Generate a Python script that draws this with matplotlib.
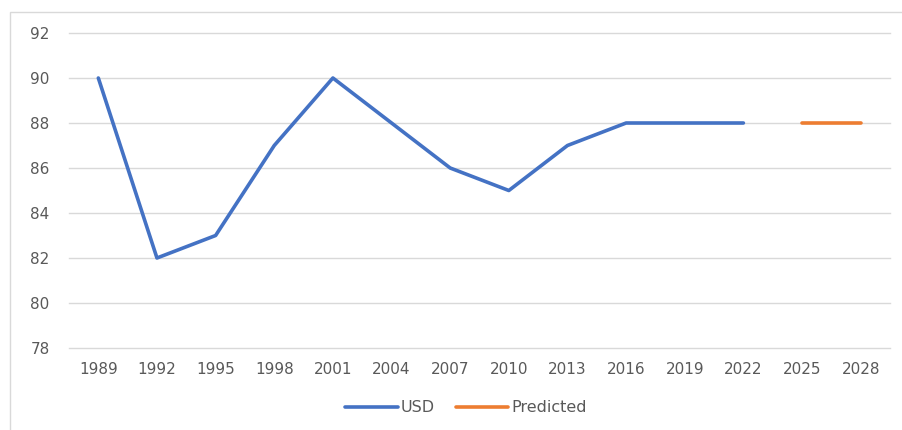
import matplotlib
matplotlib.use("Agg")
import matplotlib.pyplot as plt
import numpy as np
from matplotlib.patches import Rectangle

years = ["1989", "1992", "1995", "1998", "2001", "2004", "2007", "2010",
         "2013", "2016", "2019", "2022", "2025", "2028"]
usd = [90, 82, 83, 87, 90, 88, 86, 85, 87, 88, 88, 88, np.nan, np.nan]
predicted = [np.nan] * 12 + [88, 88]
y_ticks = [78, 80, 82, 84, 86, 88, 90, 92]

fig = plt.figure(figsize=(9.02, 4.30), dpi=100)
ax = fig.add_axes([69 / 902, 1 - 348 / 430, (890 - 69) / 902, (348 - 33) / 430])

x = np.arange(len(years))
ax.plot(x, usd, color="#4472C4", lw=2.6, solid_capstyle="round", label="USD")
ax.plot(x, predicted, color="#ED7D31", lw=2.6, solid_capstyle="round", label="Predicted")

ax.set_xlim(-0.5, len(years) - 0.5)
ax.set_ylim(78, 92)
ax.set_yticks(y_ticks)
ax.set_xticks(x)
ax.set_xticklabels(years)
ax.grid(axis="y", color="#D9D9D9", lw=1)
for gl in ax.yaxis.get_gridlines():
    gl.set_clip_on(False)
ax.set_axisbelow(True)
for s in ax.spines.values():
    s.set_visible(False)
ax.tick_params(axis="both", length=0, labelsize=11, labelcolor="#595959")
ax.tick_params(axis="x", pad=10)
ax.tick_params(axis="y", pad=14)

leg = fig.legend(loc="center", bbox_to_anchor=(466 / 902, 1 - 408 / 430), ncol=2,
                 frameon=False, fontsize=11.5, handlelength=3.3, handletextpad=0.2,
                 columnspacing=1.3)
for t in leg.get_texts():
    t.set_color("#595959")

fig.add_artist(Rectangle((10 / 902, -0.1), 1.0, 1 - 12 / 430 + 0.1,
                         transform=fig.transFigure, fill=False,
                         edgecolor="#D9D9D9", lw=1))

fig.savefig("out.png", dpi=100)
